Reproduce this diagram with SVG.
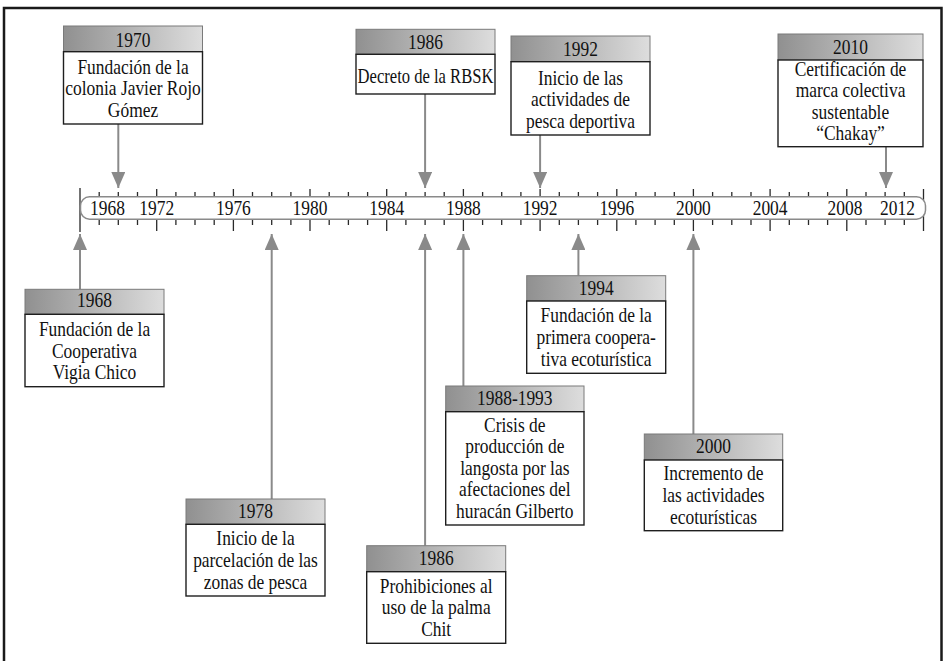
<svg xmlns="http://www.w3.org/2000/svg" width="947" height="661" viewBox="0 0 947 661">
<defs>
<linearGradient id="g" x1="0" y1="0" x2="1" y2="0">
<stop offset="0" stop-color="#909090"/>
<stop offset="1" stop-color="#dddddd"/>
</linearGradient>
<marker id="ah" markerWidth="16" markerHeight="14" refX="16" refY="7" orient="auto" markerUnits="userSpaceOnUse">
<path d="M0,0 L16,7 L0,14 z" fill="#8a8a8a"/>
</marker>
<style>
.hd{fill:url(#g);stroke:#7a7a7a;stroke-width:1}
.bd{fill:#fff;stroke:#1e1e1e;stroke-width:1.4}
.t{font-family:"Liberation Serif",serif;font-size:21px;fill:#111;text-anchor:middle}
.ar{stroke:#8a8a8a;stroke-width:2;fill:none;marker-end:url(#ah)}
.tk{stroke:#2a2a2a;stroke-width:1.3;fill:none}
</style>
</defs>
<rect width="947" height="661" fill="#fff"/>
<path d="M4,665 V8 H941.5 V665" fill="none" stroke="#1a1a1a" stroke-width="2.5"/>

<g id="timeline">
<path class="tk" d="M99.2 192v5M118.3 192v5M137.5 192v5M175.9 192v5M195 192v5M214.2 192v5M252.5 192v5M271.7 192v5M290.9 192v5M329.2 192v5M348.4 192v5M367.6 192v5M405.9 192v5M425.1 192v5M444.2 192v5M482.6 192v5M501.7 192v5M520.9 192v5M559.3 192v5M578.4 192v5M597.6 192v5M635.9 192v5M655.1 192v5M674.3 192v5M712.6 192v5M731.8 192v5M751 192v5M789.3 192v5M808.5 192v5M827.6 192v5M866 192v5M885.1 192v5M904.3 192v5"/>
<path class="tk" d="M99.2 219v6M118.3 219v6M137.5 219v6M175.9 219v6M195 219v6M214.2 219v6M252.5 219v6M271.7 219v6M290.9 219v6M329.2 219v6M348.4 219v6M367.6 219v6M405.9 219v6M425.1 219v6M444.2 219v6M482.6 219v6M501.7 219v6M520.9 219v6M559.3 219v6M578.4 219v6M597.6 219v6M635.9 219v6M655.1 219v6M674.3 219v6M712.6 219v6M731.8 219v6M751 219v6M789.3 219v6M808.5 219v6M827.6 219v6M866 219v6M885.1 219v6M904.3 219v6"/>
<path class="tk" d="M156.7 189v8M233.4 189v8M310 189v8M386.7 189v8M463.4 189v8M540.1 189v8M616.8 189v8M693.4 189v8M770.1 189v8M846.8 189v8M156.7 219v12M233.4 219v12M310 219v12M386.7 219v12M463.4 219v12M540.1 219v12M616.8 219v12M693.4 219v12M770.1 219v12M846.8 219v12M80 188V232M923.5 189V231"/>
<rect x="80.5" y="196.8" width="845" height="22.4" rx="9" fill="#fff" stroke="#8a8a8a" stroke-width="1.5"/>
<g>
<text class="t" transform="translate(107.5 214.5) scale(0.83 1)">1968</text>
<text class="t" transform="translate(156.7 214.5) scale(0.83 1)">1972</text>
<text class="t" transform="translate(233.4 214.5) scale(0.83 1)">1976</text>
<text class="t" transform="translate(310 214.5) scale(0.83 1)">1980</text>
<text class="t" transform="translate(386.7 214.5) scale(0.83 1)">1984</text>
<text class="t" transform="translate(463.4 214.5) scale(0.83 1)">1988</text>
<text class="t" transform="translate(540.1 214.5) scale(0.83 1)">1992</text>
<text class="t" transform="translate(616.8 214.5) scale(0.83 1)">1996</text>
<text class="t" transform="translate(693.4 214.5) scale(0.83 1)">2000</text>
<text class="t" transform="translate(770.1 214.5) scale(0.83 1)">2004</text>
<text class="t" transform="translate(845 214.5) scale(0.83 1)">2008</text>
<text class="t" transform="translate(897.5 214.5) scale(0.83 1)">2012</text>
</g>
</g>

<g id="connectors">
<line class="ar" x1="118.3" y1="124" x2="118.3" y2="188"/>
<line class="ar" x1="425.1" y1="94" x2="425.1" y2="188"/>
<line class="ar" x1="540.1" y1="135" x2="540.1" y2="188"/>
<line class="ar" x1="886" y1="146.7" x2="886" y2="188"/>
<line class="ar" x1="80" y1="289.3" x2="80" y2="234"/>
<line class="ar" x1="271.7" y1="499" x2="271.7" y2="234"/>
<line class="ar" x1="425.1" y1="545.7" x2="425.1" y2="234"/>
<line class="ar" x1="463.4" y1="386" x2="463.4" y2="234"/>
<line class="ar" x1="578.4" y1="275.7" x2="578.4" y2="234"/>
<line class="ar" x1="693.4" y1="434" x2="693.4" y2="234"/>
</g>

<g id="n1970">
<rect class="hd" x="63.5" y="26" width="139" height="25.7"/>
<rect class="bd" x="63.5" y="51.7" width="139" height="72.3"/>
<text class="t" transform="translate(133 46.5) scale(0.83 1)">1970</text>
<text class="t" transform="translate(133 74) scale(0.83 1)"><tspan x="0">Fundación de la</tspan><tspan x="0" dy="21.5">colonia Javier Rojo</tspan><tspan x="0" dy="21.5">Gómez</tspan></text>
</g>

<g id="n1986a">
<rect class="hd" x="356" y="29.3" width="139" height="25"/>
<rect class="bd" x="356" y="54.3" width="139" height="39.7"/>
<text class="t" transform="translate(425.5 48.5) scale(0.83 1)">1986</text>
<text class="t" transform="translate(425.5 83) scale(0.79 1)">Decreto de la RBSK</text>
</g>

<g id="n1992">
<rect class="hd" x="511" y="36" width="139" height="25.7"/>
<rect class="bd" x="511" y="61.7" width="139" height="73.3"/>
<text class="t" transform="translate(580.5 55.5) scale(0.83 1)">1992</text>
<text class="t" transform="translate(580.5 85) scale(0.83 1)"><tspan x="0">Inicio de las</tspan><tspan x="0" dy="21.5">actividades de</tspan><tspan x="0" dy="21.5">pesca deportiva</tspan></text>
</g>

<g id="n2010">
<rect class="hd" x="778" y="34" width="145" height="26"/>
<rect class="bd" x="778" y="60" width="145" height="86.7"/>
<text class="t" transform="translate(850.5 53.5) scale(0.83 1)">2010</text>
<text class="t" transform="translate(850.5 76) scale(0.83 1)"><tspan x="0">Certificación de</tspan><tspan x="0" dy="21.5">marca colectiva</tspan><tspan x="0" dy="21.5">sustentable</tspan><tspan x="0" dy="21.5">“Chakay”</tspan></text>
</g>

<g id="n1968">
<rect class="hd" x="25" y="289.3" width="139" height="25"/>
<rect class="bd" x="25" y="314.3" width="139" height="72.4"/>
<text class="t" transform="translate(94.5 307) scale(0.83 1)">1968</text>
<text class="t" transform="translate(94.5 336) scale(0.83 1)"><tspan x="0">Fundación de la</tspan><tspan x="0" dy="21.7">Cooperativa</tspan><tspan x="0" dy="21.7">Vigia Chico</tspan></text>
</g>

<g id="n1978">
<rect class="hd" x="186" y="499" width="139" height="25.3"/>
<rect class="bd" x="186" y="524.3" width="139" height="71.7"/>
<text class="t" transform="translate(255.5 517.5) scale(0.83 1)">1978</text>
<text class="t" transform="translate(255.5 545) scale(0.83 1)"><tspan x="0">Inicio de la</tspan><tspan x="0" dy="22.2">parcelación de las</tspan><tspan x="0" dy="22.2">zonas de pesca</tspan></text>
</g>

<g id="n1986b">
<rect class="hd" x="366.7" y="545.7" width="139" height="26"/>
<rect class="bd" x="366.7" y="571.7" width="139" height="71.6"/>
<text class="t" transform="translate(436.2 564.5) scale(0.83 1)">1986</text>
<text class="t" transform="translate(436.2 592.5) scale(0.83 1)"><tspan x="0">Prohibiciones al</tspan><tspan x="0" dy="22">uso de la palma</tspan><tspan x="0" dy="22">Chit</tspan></text>
</g>

<g id="n1988">
<rect class="hd" x="445.7" y="386" width="138.3" height="25.7"/>
<rect class="bd" x="445.7" y="411.7" width="138.3" height="113.3"/>
<text class="t" transform="translate(514.8 405) scale(0.83 1)">1988-1993</text>
<text class="t" transform="translate(514.8 432) scale(0.83 1)"><tspan x="0">Crisis de</tspan><tspan x="0" dy="21.5">producción de</tspan><tspan x="0" dy="21.5">langosta por las</tspan><tspan x="0" dy="21.5">afectaciones del</tspan><tspan x="0" dy="21.5">huracán Gilberto</tspan></text>
</g>

<g id="n1994">
<rect class="hd" x="526.7" y="275.7" width="139" height="25.3"/>
<rect class="bd" x="526.7" y="301" width="139" height="72.3"/>
<text class="t" transform="translate(596.2 295) scale(0.83 1)">1994</text>
<text class="t" transform="translate(596.2 321.5) scale(0.83 1)"><tspan x="0">Fundación de la</tspan><tspan x="0" dy="22.5">primera coopera-</tspan><tspan x="0" dy="22.5">tiva ecoturística</tspan></text>
</g>

<g id="n2000">
<rect class="hd" x="644.3" y="434" width="138.4" height="26"/>
<rect class="bd" x="644.3" y="460" width="138.4" height="70.7"/>
<text class="t" transform="translate(713.5 453) scale(0.83 1)">2000</text>
<text class="t" transform="translate(713.5 480) scale(0.83 1)"><tspan x="0">Incremento de</tspan><tspan x="0" dy="22">las actividades</tspan><tspan x="0" dy="22">ecoturísticas</tspan></text>
</g>
</svg>
